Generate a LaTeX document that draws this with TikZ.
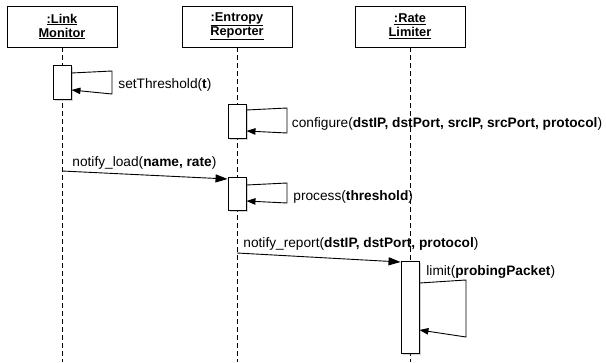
\documentclass[tikz,border=0pt]{standalone}
\usepackage{fontspec}
\setmainfont{Liberation Sans}
\usetikzlibrary{arrows.meta,shadows}

\begin{document}
\begin{tikzpicture}[x=1pt,y=-1pt,line width=0.9pt,
    objbox/.style={draw,fill=white,minimum width=110pt,minimum height=41pt,align=center,
      font={\bfseries\fontsize{12.8}{14}\selectfont}},
    lifeline/.style={dash pattern=on 5pt off 3pt},
    actbox/.style={draw,fill=white,minimum width=18pt,inner sep=0pt,
      drop shadow={shadow xshift=1.5pt,shadow yshift=-2pt,opacity=0.35}},
    call/.style={-{Triangle[length=12pt,width=8pt]}},
    selfcall/.style={-{Triangle[length=9pt,width=6.5pt]}},
    msgtext/.style={inner sep=0pt,anchor=base west,font={\fontsize{13.7}{16}\selectfont}}]
  \useasboundingbox (0,0) rectangle (606,362);

  % objects
  \node[objbox] (lm) at (62,26.5) {\underline{:Link}\\\underline{Monitor}};
  \node[objbox] (er) at (237,26.5) {\underline{:Entropy}\\\underline{Reporter}};
  \node[objbox] (rl) at (410,26.5) {\underline{:Rate}\\\underline{Limiter}};

  % lifelines
  \coordinate (lmEnd) at (62,362);
  \coordinate (erEnd) at (237,362);
  \coordinate (rlEnd) at (410,362);
  \draw[lifeline] (lm) -- (lmEnd);
  \draw[lifeline] (er) -- (erEnd);
  \draw[lifeline] (rl) -- (rlEnd);

  % activations
  \node[actbox,minimum height=34pt] (lmAct) at (62,82) {};
  \node[actbox,minimum height=34pt] (erAct1) at (237,121) {};
  \node[actbox,minimum height=33pt] (erAct2) at (237,193.5) {};
  \node[actbox,minimum height=92pt] (rlAct) at (410,307) {};

  % setThreshold
  \coordinate (st1) at (112,71);
  \coordinate (st2) at (112,94);
  \draw[selfcall] (lmAct.east |- 0,73) -- (st1) -- (st2) -- (lmAct.east |- 0,90);
  \node[msgtext] (stText) at (118,88) {setThreshold(\textbf{t})};

  % configure
  \coordinate (cf1) at (287,108);
  \coordinate (cf2) at (287,133);
  \draw[selfcall] (erAct1.east |- 0,110) -- (cf1) -- (cf2) -- (erAct1.east |- 0,131);
  \node[msgtext] (cfText) at (291.5,127.5) {configure(\textbf{dstIP, dstPort, srcIP, srcPort, protocol})};

  % notify_load
  \coordinate (nlStart) at (62,171);
  \draw[call] (nlStart) -- (erAct2.west |- 0,179);
  \node[msgtext] (nlText) at (72,166) {notify\_load(\textbf{name, rate})};

  % process
  \coordinate (pr1) at (287,183);
  \coordinate (pr2) at (287,203);
  \draw[selfcall] (erAct2.east |- 0,185) -- (pr1) -- (pr2) -- (erAct2.east |- 0,201);
  \node[msgtext] (prText) at (293,200) {process(\textbf{threshold})};

  % notify_report
  \coordinate (nrStart) at (237,253);
  \draw[call] (nrStart) -- (rlAct.west |- 0,262);
  \node[msgtext] (nrText) at (243,247) {notify\_report(\textbf{dstIP, dstPort, protocol})};

  % limit
  \coordinate (li1) at (466,280);
  \coordinate (li2) at (466,337);
  \draw[selfcall] (rlAct.east |- 0,283) -- (li1) -- (li2) -- (rlAct.east |- 0,330);
  \node[msgtext] (liText) at (426,275) {limit(\textbf{probingPacket})};
\end{tikzpicture}
\end{document}
